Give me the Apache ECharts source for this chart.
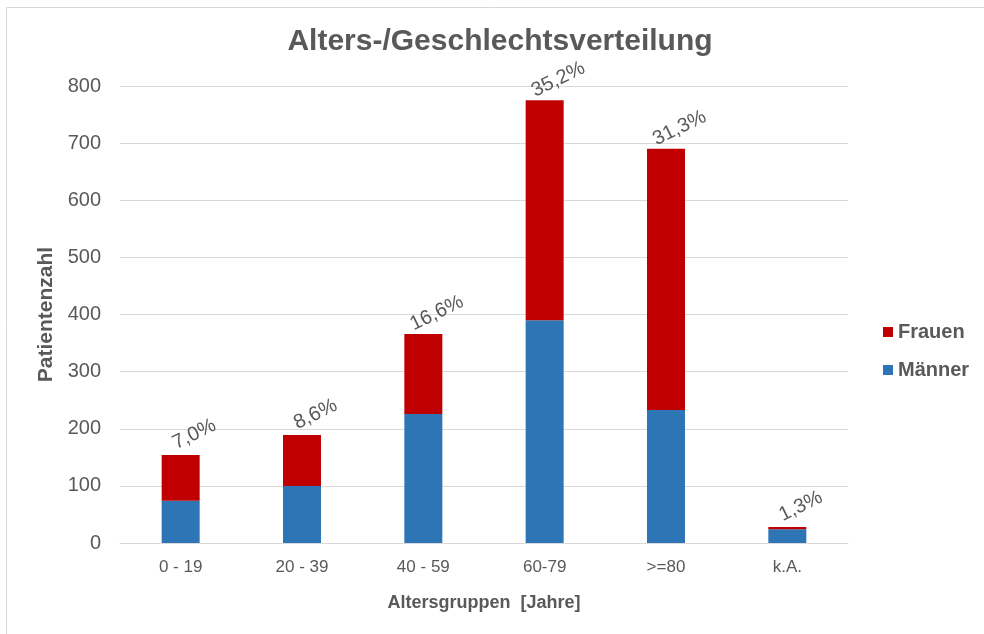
<!DOCTYPE html>
<html>
<head>
<meta charset="utf-8">
<script src="https://cdn.jsdelivr.net/npm/echarts@6/dist/echarts.min.js"></script>
<style>
  html, body { margin: 0; padding: 0; background: #ffffff; }
  #chart { width: 984px; height: 634px; }
</style>
</head>
<body>
<div id="chart"></div>
<script>
// Age groups and patient counts per sex
const ageGroups = ['0 - 19', '20 - 39', '40 - 59', '60-79', '>=80', 'k.A.'];
const maenner = [74, 100, 226, 390, 233, 24];
const frauen = [80, 89, 140, 385, 457, 4];
const yTicks = [0, 100, 200, 300, 400, 500, 600, 700, 800];

const totals = ageGroups.map((_, i) => maenner[i] + frauen[i]);
const grandTotal = totals.reduce((a, b) => a + b, 0);
const pctLabel = i => (totals[i] / grandTotal * 100).toFixed(1).replace('.', ',') + '%';

const grey = '#595959';
const chart = echarts.init(document.getElementById('chart'));
chart.setOption({
  backgroundColor: '#ffffff',
  animation: false,
  textStyle: { fontFamily: '"Liberation Sans", Arial, sans-serif' },
  graphic: [{
    type: 'rect',
    shape: { x: 6.5, y: 7.5, width: 1000, height: 700 },
    style: { fill: 'none', stroke: '#d9d9d9', lineWidth: 1 },
    silent: true
  }],
  title: {
    text: 'Alters-/Geschlechtsverteilung',
    left: 500,
    textAlign: 'center',
    top: 27,
    padding: 0,
    textStyle: { fontSize: 30, fontWeight: 'bold', color: grey }
  },
  legend: {
    orient: 'vertical',
    left: 883,
    top: 322,
    padding: 0,
    itemWidth: 10,
    itemHeight: 10,
    itemGap: 18,
    icon: 'rect',
    data: ['Frauen', 'Männer'],
    textStyle: { fontSize: 20, fontWeight: 'bold', color: grey }
  },
  grid: { left: 120, right: 136, top: 86, bottom: 91 },
  xAxis: {
    type: 'category',
    data: ageGroups,
    name: 'Altersgruppen  [Jahre]',
    nameLocation: 'middle',
    nameGap: 51,
    nameTextStyle: { fontSize: 18, fontWeight: 'bold', color: grey },
    axisLine: { show: true, lineStyle: { color: '#d9d9d9', width: 1 } },
    axisTick: { show: false },
    axisLabel: { fontSize: 17, color: grey, margin: 16 }
  },
  yAxis: {
    type: 'value',
    min: yTicks[0],
    max: yTicks[yTicks.length - 1],
    interval: yTicks[1] - yTicks[0],
    name: 'Patientenzahl',
    nameLocation: 'middle',
    nameGap: 59,
    nameTextStyle: { fontSize: 21, fontWeight: 'bold', color: grey },
    axisLine: { show: false },
    axisTick: { show: false },
    splitLine: { lineStyle: { color: '#d9d9d9', width: 1 } },
    axisLabel: { fontSize: 20, color: grey, margin: 19 }
  },
  series: [
    {
      name: 'Männer',
      type: 'bar',
      stack: 'total',
      barWidth: 38,
      data: maenner,
      itemStyle: { color: '#2e75b6' }
    },
    {
      name: 'Frauen',
      type: 'bar',
      stack: 'total',
      barWidth: 38,
      data: frauen,
      itemStyle: { color: '#c00000' },
      label: {
        show: true,
        position: 'top',
        rotate: 26,
        distance: 3,
        offset: [20, 0],
        fontSize: 20,
        color: grey,
        formatter: p => pctLabel(p.dataIndex)
      }
    }
  ]
});
</script>
</body>
</html>
